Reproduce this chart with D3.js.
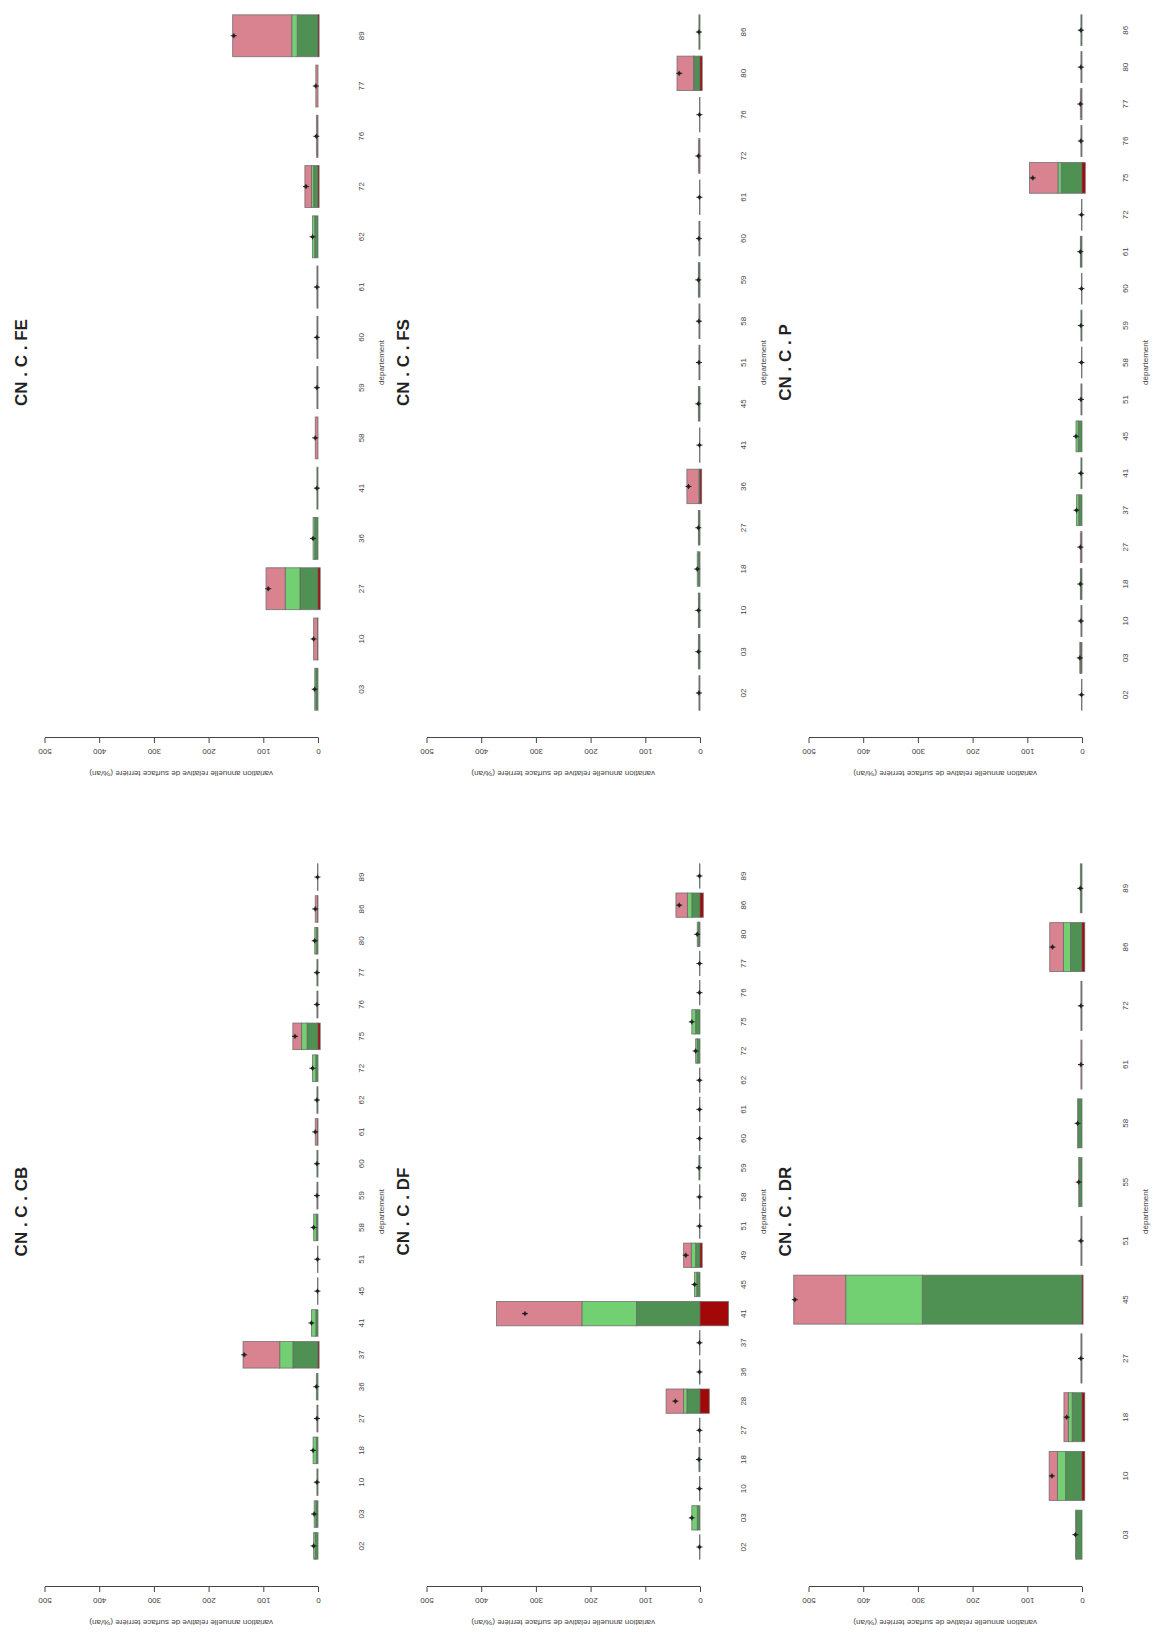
<!DOCTYPE html>
<html><head><meta charset="utf-8">
<script src="https://cdn.jsdelivr.net/npm/d3@7"></script>
<style>
body{margin:0;background:#fff}
svg{display:block}
text{font-family:"Liberation Sans",Arial,sans-serif;fill:#333}
</style>
</head><body>
<svg id="c" width="1154" height="1640"></svg>
<script>
// ---------- data ----------
const panelTitles = ["CN . C . CB","CN . C . FE","CN . C . DF","CN . C . FS","CN . C . DR","CN . C . P"];
const valueTicks = [0,100,200,300,400,500];
const yAxisLabel = "variation annuelle relative de surface terrière (%/an)";
const xAxisLabel = "département";

const cbDepts = ["02","03","10","18","27","36","37","41","45","51","58","59","60","61","62","72","75","76","77","80","86","89"];
const cbDarkGreen = [5,4,2,3,1,3,46,4,1,1,3,1,2,1,2,4,20,1,2,3,1,1];
const cbLightGreen = [3,3,0,6,0,0,24,8,0,0,5,0,0,0,0,6,10,0,0,3,0,0];
const cbPink = [0,0,0,0,1,0,67,0,0,0,0,1,0,4,0,0,16,1,0,0,4,0];
const cbDarkRed = [0,0,0,0,0,0,2,0,0,0,0,0,0,0,0,0,4,0,0,0,0,0];

const feDepts = ["03","10","27","36","41","58","59","60","61","62","72","76","77","89"];
const feDarkGreen = [4,1,33,6,2,0,1,1,1,6,8,1,0,38];
const feLightGreen = [2,0,27,3,0,0,0,0,0,4,4,0,0,10];
const fePink = [0,7,35,0,0,5,1,1,1,0,12,2,4,108];
const feDarkRed = [0,0,4,0,0,0,0,0,0,0,2,0,0,2];

const dfDepts = ["02","03","10","18","27","28","36","37","41","45","49","51","58","59","60","61","62","72","75","76","77","80","86","89"];
const dfDarkGreen = [1,5,1,2,1,24,1,1,116,6,8,1,1,2,1,1,1,5,8,1,1,3,15,1];
const dfLightGreen = [0,10,0,0,0,6,0,0,100,4,8,0,0,0,0,0,0,3,7,0,0,2,8,0];
const dfPink = [0,0,0,0,0,32,0,0,156,0,14,0,0,0,0,0,0,0,0,0,0,0,21,0];
const dfDarkRed = [0,0,0,0,0,17,0,0,52,0,4,0,0,0,0,0,0,0,0,0,0,0,6,0];

const fsDepts = ["02","03","10","18","27","36","41","45","51","58","59","60","61","72","76","80","86"];
const fsDarkGreen = [1,2,2,3,2,2,1,2,1,1,2,1,1,1,1,10,2];
const fsLightGreen = [0,1,1,2,1,0,0,1,0,0,1,0,0,0,0,2,0];
const fsPink = [1,0,0,0,0,22,0,0,1,1,0,1,0,2,0,30,0];
const fsDarkRed = [0,0,0,0,0,3,0,0,0,0,0,0,0,0,0,4,0];

const drDepts = ["03","10","18","27","45","51","55","58","61","72","86","89"];
const drDarkGreen = [10,30,18,1,292,1,5,7,0,1,21,3];
const drLightGreen = [2,15,7,0,140,0,1,1,0,0,13,0];
const drPink = [0,15,8,1,95,1,0,0,2,1,25,0];
const drDarkRed = [0,5,5,0,2,0,0,0,0,0,5,0];

const pDepts = ["02","03","10","18","27","37","41","45","51","58","59","60","61","72","75","76","77","80","86"];
const pDarkGreen = [1,2,1,2,1,6,2,7,1,1,2,1,2,1,38,1,1,1,2];
const pLightGreen = [0,1,0,1,0,4,0,4,0,0,0,0,1,0,6,0,0,0,0];
const pPink = [0,1,1,0,2,0,0,0,1,0,0,0,0,0,52,1,2,1,0];
const pDarkRed = [0,0,0,0,0,0,0,0,0,0,0,0,0,0,6,0,0,0,0];

const panels = [
  {depts:cbDepts, dg:cbDarkGreen, lg:cbLightGreen, pk:cbPink, dr:cbDarkRed},
  {depts:feDepts, dg:feDarkGreen, lg:feLightGreen, pk:fePink, dr:feDarkRed},
  {depts:dfDepts, dg:dfDarkGreen, lg:dfLightGreen, pk:dfPink, dr:dfDarkRed},
  {depts:fsDepts, dg:fsDarkGreen, lg:fsLightGreen, pk:fsPink, dr:fsDarkRed},
  {depts:drDepts, dg:drDarkGreen, lg:drLightGreen, pk:drPink, dr:drDarkRed},
  {depts:pDepts, dg:pDarkGreen, lg:pLightGreen, pk:pPink, dr:pDarkRed}
];
const colors = {dg:"#4e9152", lg:"#72cf72", pk:"#d8838f", dr:"#a30808"};

// ---------- layout (original landscape frame, then rotated) ----------
const svg = d3.select("#c");
const root = svg.append("g").attr("transform","translate(0,1640) rotate(-90)");
const plotLeft = [53, 902];
const plotW = 751;
const rowStep = 382;
const zeroPos = 318, topPos = 44.5;

panels.forEach((pd, p) => {
  const r = Math.floor(p/2), c = p % 2;
  const L = plotLeft[c], n = pd.depts.length;
  const rng = 1.2*n - 0.2, ext = 0.04*rng;
  const x = d3.scaleLinear().domain([0.2-ext, 1.2*n+ext]).range([L, L+plotW]);
  const y = d3.scaleLinear().domain([0,500]).range([zeroPos + r*rowStep, topPos + r*rowStep]);
  const g = root.append("g");

  // title
  g.append("text").attr("x", L+plotW/2).attr("y", r*rowStep + 27)
    .attr("text-anchor","middle").style("font-weight","bold").style("font-size","17px")
    .style("fill","#222").text(panelTitles[p]);

  // y axis
  const ax = g.append("g").attr("transform",`translate(${L},0)`)
    .call(d3.axisLeft(y).tickValues(valueTicks).tickSize(5).tickSizeOuter(0));
  ax.select(".domain").attr("stroke","#444");
  ax.selectAll(".tick line").attr("stroke","#444");
  ax.selectAll(".tick text").attr("x",null).attr("dy",null)
    .attr("text-anchor","middle").attr("transform","translate(-11,0) rotate(-90)")
    .style("font-size","8px").style("fill","#444");
  g.append("text").attr("transform",`translate(${L-33},${(y(0)+y(500))/2}) rotate(-90)`)
    .attr("text-anchor","middle").style("font-size","8px").style("fill","#444").text(yAxisLabel);

  // bars
  pd.depts.forEach((d, i) => {
    const cx = 1.2*(i+1) - 0.5;
    const x0 = x(cx-0.5), x1 = x(cx+0.5);
    const segs = [
      [0, pd.dg[i], colors.dg],
      [pd.dg[i], pd.dg[i]+pd.lg[i], colors.lg],
      [pd.dg[i]+pd.lg[i], pd.dg[i]+pd.lg[i]+pd.pk[i], colors.pk],
      [-pd.dr[i], 0, colors.dr]
    ];
    segs.forEach(s => {
      g.append("rect").attr("x", x0).attr("width", x1-x0)
        .attr("y", y(s[1])).attr("height", Math.max(0, y(s[0]) - y(s[1])))
        .attr("fill", s[2]).attr("stroke","#666").attr("stroke-width",0.9)
        .attr("stroke-opacity",0.8);
    });
    const net = pd.dg[i]+pd.lg[i]+pd.pk[i]-pd.dr[i];
    const px = x(cx), py = y(net);
    g.append("line").attr("x1",px).attr("x2",px).attr("y1",py-3).attr("y2",py+3)
      .attr("stroke","#222").attr("stroke-width",1);
    g.append("line").attr("x1",px-2.5).attr("x2",px+2.5).attr("y1",py).attr("y2",py)
      .attr("stroke","#222").attr("stroke-width",1);
    g.append("circle").attr("cx",px).attr("cy",py).attr("r",1.7).attr("fill","#222");

    // department label
    g.append("text").attr("x", x(cx)).attr("y", y(0) + 46)
      .attr("text-anchor","middle").style("font-size","8px").style("fill","#444").text(d);
  });

  g.append("text").attr("x", L+plotW/2).attr("y", y(0) + 66)
    .attr("text-anchor","middle").style("font-size","8px").style("fill","#444").text(xAxisLabel);
});
</script>
</body></html>
